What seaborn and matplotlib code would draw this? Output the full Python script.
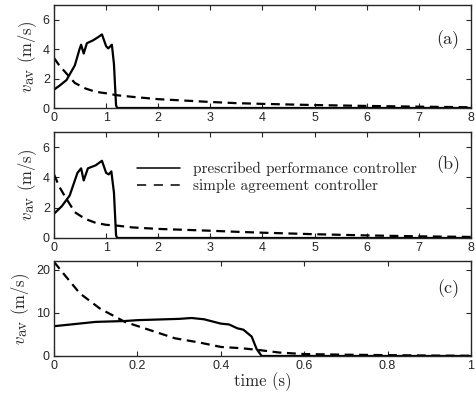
import numpy as np
import pandas as pd
import matplotlib
matplotlib.use("Agg")
import matplotlib.pyplot as plt
import matplotlib._mathtext as mt
from matplotlib.lines import Line2D
import seaborn as sns

# panel (a): t in s, v_av in m/s
t_a_ppc = [0, 0.1, 0.24, 0.4, 0.49, 0.52, 0.57, 0.63, 0.75, 0.84, 0.92, 1.0, 1.04, 1.11, 1.15, 1.19, 1.21, 8]
v_a_ppc = [1.25, 1.5, 1.9, 2.9, 4.0, 4.3, 3.7, 4.4, 4.6, 4.8, 5.0, 4.2, 4.05, 4.3, 3.0, 0.2, 0, 0]
t_a_sac = [0, 0.1, 0.2, 0.4, 0.6, 0.8, 1.0, 1.2, 1.5, 2, 3, 3.5, 4, 5, 6, 7, 8]
v_a_sac = [3.4, 2.9, 2.5, 1.7, 1.33, 1.1, 1.0, 0.87, 0.76, 0.6, 0.41, 0.33, 0.28, 0.2, 0.14, 0.09, 0.05]

# panel (b)
t_b_ppc = [0, 0.15, 0.3, 0.45, 0.52, 0.57, 0.65, 0.8, 0.92, 1.0, 1.05, 1.1, 1.15, 1.19, 1.21, 8]
v_b_ppc = [1.6, 2.1, 2.8, 4.3, 4.6, 3.8, 4.6, 4.8, 5.1, 4.3, 4.2, 4.4, 3.0, 0.2, 0, 0]
t_b_sac = [0, 0.1, 0.2, 0.4, 0.6, 0.8, 1.0, 1.2, 1.5, 2, 3, 3.5, 4, 5, 6, 7, 8]
v_b_sac = [4.2, 3.4, 2.8, 1.7, 1.26, 1.0, 0.87, 0.82, 0.7, 0.6, 0.48, 0.41, 0.35, 0.25, 0.17, 0.11, 0.07]

# panel (c)
t_c_ppc = [0, 0.05, 0.1, 0.17, 0.2, 0.3, 0.33, 0.36, 0.4, 0.42, 0.44, 0.454, 0.474, 0.486, 0.498, 1.0]
v_c_ppc = [6.9, 7.4, 7.9, 8.1, 8.3, 8.6, 8.8, 8.5, 7.5, 7.3, 6.4, 6.1, 4.5, 1.6, 0, 0]
t_c_sac = [0, 0.026, 0.062, 0.11, 0.17, 0.23, 0.29, 0.35, 0.4, 0.45, 0.49, 0.54, 0.6, 0.7, 0.8, 0.9, 1.0]
v_c_sac = [21.8, 18.7, 14.5, 11.0, 7.9, 6.0, 4.1, 3.1, 2.1, 1.8, 1.4, 0.8, 0.45, 0.3, 0.2, 0.1, 0.05]

labels = ["prescribed performance controller", "simple agreement controller"]

sns.set_style("ticks")
plt.rcParams["font.family"] = ["Liberation Sans", "DejaVu Sans"]
plt.rcParams["mathtext.fontset"] = "cm"
mt.SHRINK_FACTOR = 0.9  # subscript "av" is nearly full size in the original
serif = "cmr10"
dash = (0, (4, 2.5))

fig = plt.figure(figsize=(4.77, 3.97), dpi=100)
L, W = 54 / 477, (471 - 54) / 477
boxes = [(5, 108), (132, 238), (261, 356)]
axes = [fig.add_axes([L, 1 - b / 397, W, (b - t) / 397]) for t, b in boxes]

panels = [
    (t_a_ppc, v_a_ppc, t_a_sac, v_a_sac, (0, 8), (0, 7), [0, 2, 4, 6], "(a)", 0.667),
    (t_b_ppc, v_b_ppc, t_b_sac, v_b_sac, (0, 8), (0, 7), [0, 2, 4, 6], "(b)", 0.69),
    (t_c_ppc, v_c_ppc, t_c_sac, v_c_sac, (0, 1), (0, 22), [0, 10, 20], "(c)", 0.705),
]

for ax, (tp, vp, ts, vs, xl, yl, yt, lab, ly) in zip(axes, panels):
    sns.lineplot(x=tp, y=vp, ax=ax, color="black", lw=1.6)
    sns.lineplot(x=ts, y=vs, ax=ax, color="black", lw=1.6, linestyle=dash)
    ax.set_xlim(*xl)
    ax.set_ylim(*yl)
    ax.set_yticks(yt)
    ax.tick_params(direction="in", top=True, right=True, labelsize=9,
                   length=3.5, width=0.8, pad=3)
    for s in ax.spines.values():
        s.set_linewidth(1.0)
    ax.set_ylabel(r"$v_{\rm av}$ (m/s)", family=serif, fontsize=12, labelpad=3)
    ax.text(0.945, ly, lab, transform=ax.transAxes, family=serif, fontsize=13,
            ha="center", va="center")

axes[2].set_xticks([0, 0.2, 0.4, 0.6, 0.8, 1])
axes[2].set_xticklabels(["0", "0.2", "0.4", "0.6", "0.8", "1"])
axes[2].set_xlabel("time (s)", family=serif, fontsize=12, labelpad=0)

# legend handles drawn a bit thinner than the curves
handles = [Line2D([], [], color="black", lw=1.1),
           Line2D([], [], color="black", lw=1.1, linestyle=(0, (6, 5)))]
axes[1].legend(handles, labels, loc="upper left", bbox_to_anchor=(0.199, 0.72), frameon=False,
               prop={"family": serif, "size": 11}, handlelength=2.8,
               handletextpad=0.85, labelspacing=0.2, borderaxespad=0, borderpad=0)

fig.savefig("out.png", dpi=100)
